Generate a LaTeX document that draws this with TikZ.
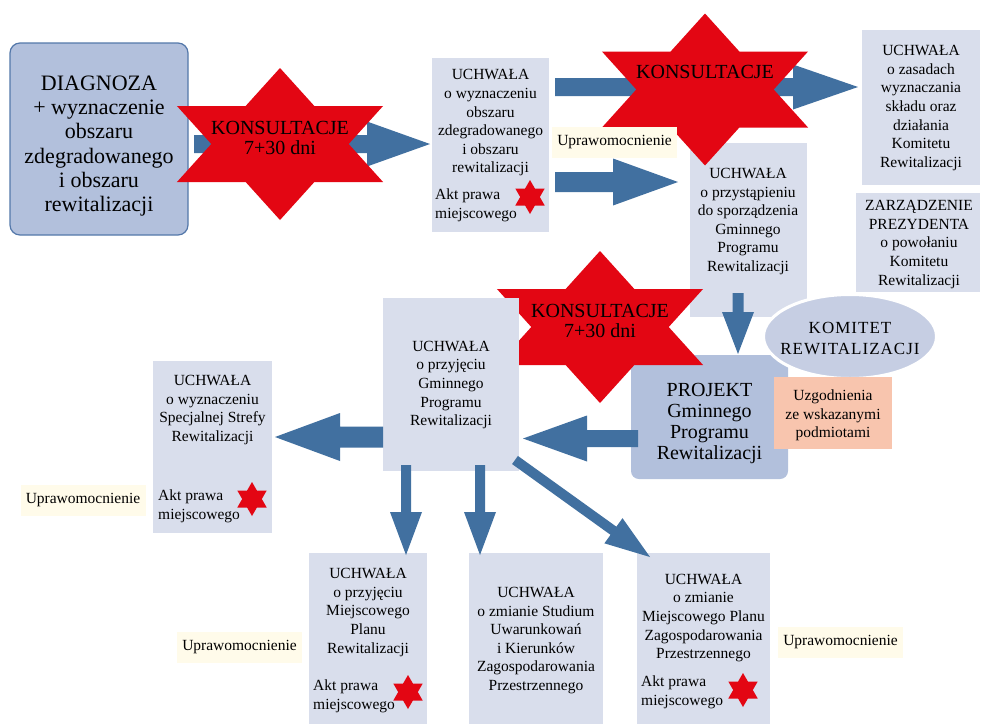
\documentclass[tikz,border=0pt]{standalone}
\usepackage{fontspec}
\setmainfont{Liberation Serif}
\usetikzlibrary{calc,shapes.geometric}

\definecolor{boxfill}{RGB}{217,222,236}
\definecolor{darkfill}{RGB}{178,192,220}
\definecolor{diagborder}{RGB}{84,120,170}
\definecolor{arrowc}{RGB}{65,112,160}
\definecolor{starred}{RGB}{227,6,19}
\definecolor{ellfill}{RGB}{198,206,227}
\definecolor{peach}{RGB}{248,197,174}
\definecolor{cream}{RGB}{255,251,234}

% hexagram: centre x, centre y, x radius, y radius
\newcommand{\hexstar}[4]{%
  \fill[starred, shift={(#1,#2)}, xscale=#3, yscale=#4]
    (0,1) -- (0.2887,0.5) -- (0.866,0.5) -- (0.5774,0) -- (0.866,-0.5) -- (0.2887,-0.5)
    -- (0,-1) -- (-0.2887,-0.5) -- (-0.866,-0.5) -- (-0.5774,0) -- (-0.866,0.5) -- (-0.2887,0.5) -- cycle;}

% block arrow: start, tip, shaft half width, head half width, head length
\newcommand{\myarrow}[5]{%
  \coordinate (hb) at ($(#2)!#5!(#1)$);
  \fill[arrowc] ($(#1)!#3!90:(#2)$) -- ($(hb)!#3!90:(#2)$) -- ($(hb)!#4!90:(#2)$) -- (#2)
    -- ($(hb)!#4!-90:(#2)$) -- ($(hb)!#3!-90:(#2)$) -- ($(#1)!#3!-90:(#2)$) -- cycle;}

\tikzset{
  box/.style={fill=boxfill, inner sep=0pt, outer sep=0pt, anchor=north west},
  txt/.style={font=\fontsize{15.5}{18.6}\selectfont, align=center, inner sep=0pt},
  akt/.style={font=\fontsize{15.5}{18.6}\selectfont, align=left, inner sep=0pt, anchor=west},
  upraw/.style={fill=cream, inner sep=0pt, outer sep=0pt, minimum width=125pt, minimum height=31pt,
     font=\fontsize{15.5}{18.6}\selectfont},
  startxt/.style={font=\fontsize{20}{20.5}\selectfont, align=center, inner sep=0pt},
}

\begin{document}
\begin{tikzpicture}[x=1pt,y=-1pt]
\fill[white] (0,0) rectangle (983,724);
\useasboundingbox (0,0) rectangle (983,724);

% ---------- boxes ----------
\node[box, fill=darkfill, draw=diagborder, line width=1.2pt, rounded corners=10pt,
      minimum width=178pt, minimum height=192pt] (diag) at (10,43) {};
\node[font=\fontsize{22}{24.3}\selectfont, align=center, inner sep=0pt] (diagt) at (99,146)
  {DIAGNOZA\\+ wyznaczenie\\obszaru\\zdegradowanego\\i obszaru\\rewitalizacji};

\node[box, minimum width=117pt, minimum height=174pt] (u1) at (432,58) {};
\node[txt] (u1t) at (490.5,123) {UCHWAŁA\\o wyznaczeniu\\obszaru\\zdegradowanego\\i obszaru\\rewitalizacji};
\node[akt] (u1a) at (435,205.5) {Akt prawa\\miejscowego};

\node[box, minimum width=118pt, minimum height=155pt] (zas) at (862,30) {};
\node[txt] (zast) at (921,108) {UCHWAŁA\\o zasadach\\wyznaczania\\składu oraz\\działania\\Komitetu\\Rewitalizacji};

\node[box, minimum width=124pt, minimum height=99pt] (zarz) at (856,193) {};
\node[txt] (zarzt) at (919,244.5) {ZARZĄDZENIE\\PREZYDENTA\\o powołaniu\\Komitetu\\Rewitalizacji};

\node[box, minimum width=117pt, minimum height=174pt] (przy) at (690,143) {};
\node[txt] (przyt) at (748,221.5) {UCHWAŁA\\o przystąpieniu\\do sporządzenia\\Gminnego\\Programu\\Rewitalizacji};

\node[box, fill=darkfill, rounded corners=8pt, minimum width=157pt, minimum height=124pt] (proj) at (631,355) {};
\node[font=\fontsize{20}{21}\selectfont, align=center, inner sep=0pt] (projt) at (709.5,423)
  {PROJEKT\\Gminnego\\Programu\\Rewitalizacji};

\node[ellipse, fill=ellfill, draw=white, line width=3pt, minimum width=173pt, minimum height=84pt,
      inner sep=0pt] (kom) at (850,336.5) {};
\node[font=\fontsize{17}{21}\selectfont\addfontfeatures{LetterSpace=6}, align=center, inner sep=0pt]
  (komt) at (850,338.5) {KOMITET\\REWITALIZACJI};

\node[box, fill=peach, minimum width=118pt, minimum height=72pt] (uzg) at (774,377) {};
\node[txt] (uzgt) at (833,415.5) {Uzgodnienia\\ze wskazanymi\\podmiotami};

\node[box, minimum width=119pt, minimum height=172pt] (ssr) at (153,361) {};
\node[txt] (ssrt) at (212.5,410) {UCHWAŁA\\o wyznaczeniu\\Specjalnej Strefy\\Rewitalizacji};
\node[akt] (ssra) at (158,506.5) {Akt prawa\\miejscowego};

\node[box, minimum width=118pt, minimum height=171pt] (mpr) at (309,553) {};
\node[txt] (mprt) at (368,612.5) {UCHWAŁA\\o przyjęciu\\Miejscowego\\Planu\\Rewitalizacji};
\node[akt] (mpra) at (313,696.5) {Akt prawa\\miejscowego};

\node[box, minimum width=134pt, minimum height=171pt] (stu) at (469,553) {};
\node[txt] (stut) at (536,640.5) {UCHWAŁA\\o zmianie Studium\\Uwarunkowań\\i Kierunków\\Zagospodarowania\\Przestrzennego};

\node[box, minimum width=133pt, minimum height=171pt] (mpzp) at (637,553) {};
\node[txt] (mpzpt) at (703.5,618) {UCHWAŁA\\o zmianie\\Miejscowego Planu\\Zagospodarowania\\Przestrzennego};
\node[akt] (mpzpa) at (641,692.5) {Akt prawa\\miejscowego};

% small stars (Akt prawa miejscowego)
\hexstar{530}{197}{17}{17}
\hexstar{252}{499}{17}{17}
\hexstar{408}{692}{17}{17}
\hexstar{743}{690}{17}{17}

% ---------- middle star (below GPR box) ----------
\hexstar{600}{327}{119}{76}

\node[box, minimum width=136pt, minimum height=173pt] (gpr) at (383,298) {};
\node[txt] (gprt) at (451,385) {UCHWAŁA\\o przyjęciu\\Gminnego\\Programu\\Rewitalizacji};

% ---------- arrows ----------
\coordinate (a1s) at (194,144);   \coordinate (a1e) at (430,144);
\coordinate (a2s) at (555,87);    \coordinate (a2e) at (858,87);
\coordinate (a3s) at (555,182);   \coordinate (a3e) at (678,182);
\coordinate (a4s) at (738,293);   \coordinate (a4e) at (738,354);
\coordinate (a5s) at (638,438.5); \coordinate (a5e) at (523,438.5);
\coordinate (a6s) at (383,437);   \coordinate (a6e) at (275,437);
\coordinate (a7s) at (406,465);   \coordinate (a7e) at (406,555);
\coordinate (a8s) at (480,465);   \coordinate (a8e) at (480,555);
\coordinate (a9s) at (515,460);   \coordinate (a9e) at (650,557);

\myarrow{a1s}{a1e}{9pt}{22.5pt}{63pt}
\myarrow{a2s}{a2e}{9pt}{22.5pt}{65pt}
\myarrow{a3s}{a3e}{10pt}{23.5pt}{65pt}
\myarrow{a4s}{a4e}{5.5pt}{16pt}{42pt}
\myarrow{a5s}{a5e}{8.5pt}{23pt}{64pt}
\myarrow{a6s}{a6e}{10.5pt}{24pt}{65pt}
\myarrow{a7s}{a7e}{5pt}{16pt}{43pt}
\myarrow{a8s}{a8e}{5pt}{16pt}{43pt}
\myarrow{a9s}{a9e}{5pt}{15.5pt}{45pt}

% ---------- big stars ----------
\hexstar{280}{144}{119}{76}
\hexstar{705}{89.5}{119}{76}

\node[startxt] (s1) at (280,138) {KONSULTACJE\\7+30 dni};
\node[startxt] (s2) at (705,72) {KONSULTACJE};
\node[startxt] (s3) at (600,321) {KONSULTACJE\\7+30 dni};

% ---------- Uprawomocnienie labels ----------
\node[upraw] (up1) at (614.5,142) {Uprawomocnienie};
\node[upraw] (up2) at (83,500) {Uprawomocnienie};
\node[upraw] (up3) at (239.5,647.5) {Uprawomocnienie};
\node[upraw] (up4) at (840.5,642.5) {Uprawomocnienie};
\end{tikzpicture}
\end{document}
